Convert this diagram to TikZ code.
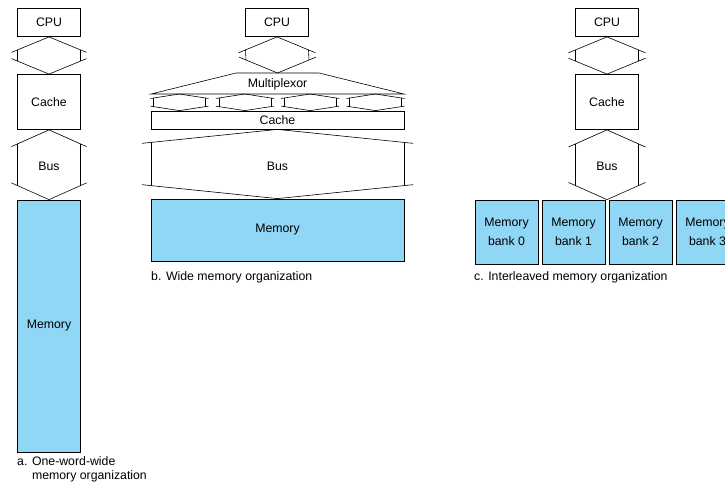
\documentclass[tikz,border=0pt]{standalone}
\usepackage{fontspec}
\setmainfont{Liberation Sans}
\usepackage{tikz}
\usetikzlibrary{calc}
\definecolor{membg}{RGB}{144,214,245}

\tikzset{
  unit/.style={draw, line width=0.8pt, inner sep=0pt, align=center},
  membox/.style={unit, fill=membg},
  busline/.style={line width=0.6pt},
  caption/.style={anchor=north west, inner sep=0pt, align=left},
}

% #1 top apex, #2 bottom apex, #3 half width, #4 depth, #5 overhang
\newcommand{\drawbus}[5]{%
  \draw[busline] ($(#1)+({-(#3+#5)},{#4*(#3+#5)/#3})$) -- (#1) -- ($(#1)+({#3+#5},{#4*(#3+#5)/#3})$);
  \draw[busline] ($(#2)+({-(#3+#5)},{-#4*(#3+#5)/#3})$) -- (#2) -- ($(#2)+({#3+#5},{-#4*(#3+#5)/#3})$);
  \draw[busline] ($(#1)+(-#3,#4)$) -- ($(#2)+(-#3,-#4)$);
  \draw[busline] ($(#1)+(#3,#4)$) -- ($(#2)+(#3,-#4)$);
}

\begin{document}
\begin{tikzpicture}[x=1pt, y=-1pt, font=\fontsize{12.3}{14.5}\selectfont]
  \useasboundingbox (0,0) rectangle (725,483);

  % a. one-word-wide
  \node[unit, minimum width=63pt, minimum height=28pt] (cpuA) at (49,22.5) {CPU};
  \node[unit, minimum width=63pt, minimum height=55pt] (cacheA) at (49,102) {Cache};
  \node[membox, minimum width=63pt, minimum height=252pt] (memA) at (49,326) {Memory};
  \node (busA) at (49,166) {Bus};
  \drawbus{cpuA.south}{cacheA.north}{31.5}{13}{6}
  \drawbus{cacheA.south}{memA.north}{31.5}{14}{6}
  \node[caption] (capA) at (17,456) {a. One-word-wide\\\phantom{a. }memory organization};

  % b. wide
  \node[unit, minimum width=63pt, minimum height=28pt] (cpuB) at (277,22.5) {CPU};
  \node (mux) at (277.5,84) {Multiplexor};
  \coordinate (muxtop) at ($(mux.center)+(0,-11)$);
  \coordinate (muxbot) at ($(mux.center)+(0,10)$);
  \draw[busline] ($(muxtop)+(-41.5,0)$) -- ($(muxtop)+(41.5,0)$) -- ($(muxbot)+(126.5,0)$)
    -- ($(muxbot)+(-126.5,0)$) -- cycle;
  \node[unit, minimum width=253pt, minimum height=18pt] (cacheB) at (277.5,120) {Cache};
  \node[membox, minimum width=253pt, minimum height=62pt] (memB) at (277.5,230) {Memory};
  \node (busB) at (277.5,166) {Bus};
  \drawbus{cpuB.south}{muxtop}{31.5}{13}{7}
  \foreach \dx [count=\i] in {-98,-32.7,32.7,98} {
    \coordinate (st\i) at ($(muxbot)+(\dx,0)$);
    \coordinate (sb\i) at ($(cacheB.north)+(\dx,0)$);
    \drawbus{st\i}{sb\i}{26}{4}{3}
  }
  \drawbus{cacheB.south}{memB.north}{126.5}{13}{9}
  \node[caption] (capB) at (151,271) {b. Wide memory organization};

  % c. interleaved
  \node[unit, minimum width=63pt, minimum height=28pt] (cpuC) at (607,22.5) {CPU};
  \node[unit, minimum width=63pt, minimum height=55pt] (cacheC) at (607,102) {Cache};
  \foreach \x [count=\i from 0] in {506.5,573.5,640.5,707.5} {
    \node[membox, minimum width=63pt, minimum height=64pt] (bank\i) at (\x,232) {Memory\\[5pt]bank \i};
  }
  \coordinate (cgap) at ($(bank1.north east)!0.5!(bank2.north west)$);
  \node (busC) at (607,166) {Bus};
  \drawbus{cpuC.south}{cacheC.north}{31.5}{13}{7}
  \drawbus{cacheC.south}{cgap}{31.5}{14}{7}
  \node[caption] (capC) at (474,271) {c. Interleaved memory organization};
\end{tikzpicture}
\end{document}
